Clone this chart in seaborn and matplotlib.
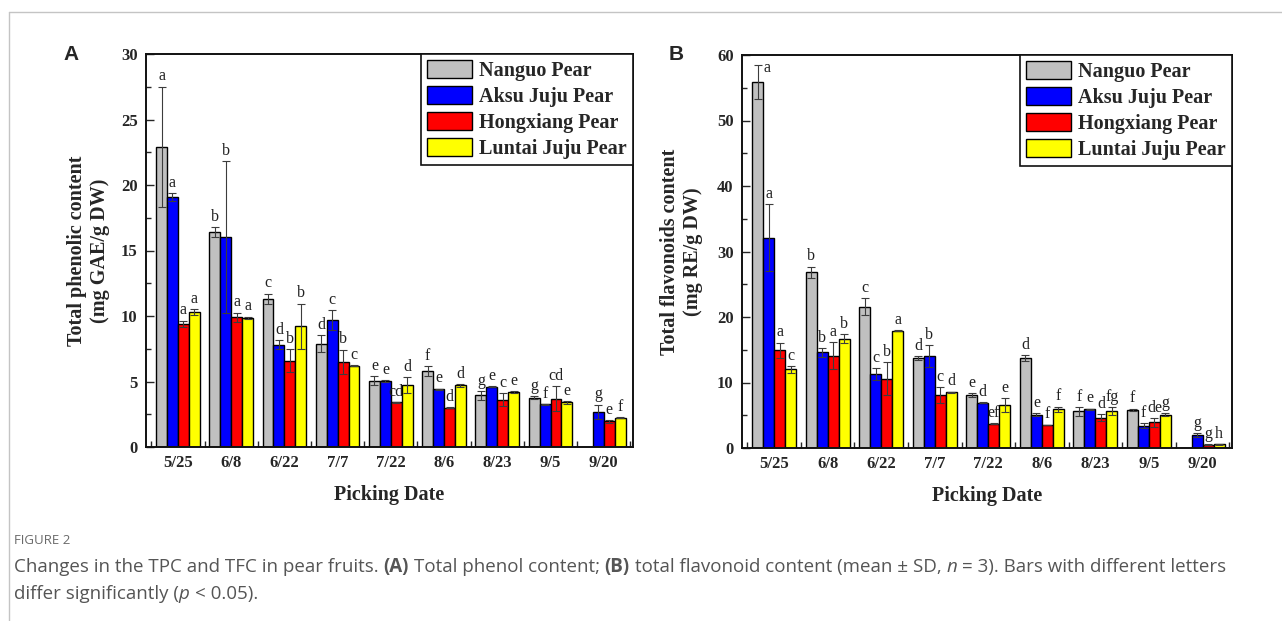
import numpy as np
import pandas as pd
import matplotlib
matplotlib.use("Agg")
import matplotlib.pyplot as plt
from matplotlib.patches import Patch
from matplotlib.lines import Line2D
from matplotlib.ticker import MultipleLocator
import seaborn as sns

# ---------------- data ----------------
dates = ["5/25", "6/8", "6/22", "7/7", "7/22", "8/6", "8/23", "9/5", "9/20"]
cultivars = ["Nanguo Pear", "Aksu Juju Pear", "Hongxiang Pear", "Luntai Juju Pear"]
colors = ["#c0c0c0", "#0000ff", "#ff0000", "#ffff00"]

# Total phenolic content (mg GAE/g DW), mean and SD
tpc_nanguo = [22.9, 16.4, 11.3, 7.9, 5.05, 5.8, 3.95, 3.75, 0.0]
tpc_aksu = [19.1, 16.0, 7.8, 9.7, 5.05, 4.4, 4.6, 3.25, 2.7]
tpc_hong = [9.4, 9.9, 6.6, 6.5, 3.4, 3.0, 3.6, 3.7, 1.95]
tpc_luntai = [10.3, 9.85, 9.2, 6.2, 4.75, 4.7, 4.2, 3.4, 2.25]
tpc_sd_nanguo = [4.6, 0.4, 0.4, 0.65, 0.35, 0.38, 0.33, 0.12, 0.0]
tpc_sd_aksu = [0.3, 5.8, 0.35, 0.76, 0.05, 0.05, 0.05, 0.05, 0.54]
tpc_sd_hong = [0.25, 0.35, 0.85, 0.94, 0.05, 0.05, 0.5, 0.97, 0.1]
tpc_sd_luntai = [0.25, 0.1, 1.75, 0.05, 0.6, 0.1, 0.08, 0.12, 0.03]
tpc_let_nanguo = ["a", "b", "c", "d", "e", "f", "g", "g", ""]
tpc_let_aksu = ["a", "b", "d", "c", "e", "e", "e", "f", "g"]
tpc_let_hong = ["a", "a", "b", "b", "cd", "d", "c", "cd", "e"]
tpc_let_luntai = ["a", "a", "b", "c", "d", "d", "e", "e", "f"]

# Total flavonoids content (mg RE/g DW), mean and SD
tfc_nanguo = [55.9, 26.8, 21.6, 13.7, 8.1, 13.7, 5.6, 5.8, 0.0]
tfc_aksu = [32.1, 14.6, 11.3, 14.0, 6.9, 5.1, 5.9, 3.4, 2.0]
tfc_hong = [14.9, 14.1, 10.6, 8.1, 3.7, 3.5, 4.6, 3.9, 0.5]
tfc_luntai = [12.0, 16.7, 17.9, 8.5, 6.6, 5.9, 5.6, 5.1, 0.55]
tfc_sd_nanguo = [2.6, 0.9, 1.3, 0.3, 0.25, 0.45, 0.65, 0.2, 0.0]
tfc_sd_aksu = [5.1, 0.65, 0.9, 1.7, 0.05, 0.2, 0.1, 0.36, 0.3]
tfc_sd_hong = [1.2, 2.1, 2.5, 1.2, 0.05, 0.05, 0.55, 0.7, 0.05]
tfc_sd_luntai = [0.5, 0.7, 0.1, 0.1, 1.05, 0.4, 0.6, 0.2, 0.05]
tfc_let_nanguo = ["a", "b", "c", "d", "e", "d", "f", "f", ""]
tfc_let_aksu = ["a", "b", "c", "b", "d", "e", "e", "f", "g"]
tfc_let_hong = ["a", "a", "b", "c", "ef", "f", "d", "de", "g"]
tfc_let_luntai = ["c", "b", "a", "d", "e", "f", "fg", "g", "h"]

# ---------------- style ----------------
sns.set_style("ticks")
plt.rcParams["font.family"] = ["Liberation Serif", "DejaVu Serif"]
plt.rcParams["font.weight"] = "bold"
plt.rcParams["axes.labelweight"] = "bold"

W, H = 1282, 621
fig = plt.figure(figsize=(W / 100, H / 100), dpi=100)
fig.patch.set_facecolor("white")


def long_frame(series):
    rows = []
    for cultivar, values in zip(cultivars, series):
        for d, v in zip(dates, values):
            rows.append({"date": d, "cultivar": cultivar, "value": v})
    return pd.DataFrame(rows)


def draw_panel(ax, means, sds, letters, ymax, ystep, ylabel, label_x):
    df = long_frame(means)
    sns.barplot(data=df, x="date", y="value", hue="cultivar", order=dates,
                hue_order=cultivars, palette=colors, saturation=1,
                edgecolor="black", linewidth=1.0, width=0.82,
                errorbar=None, legend=False, ax=ax)
    for cont, sd, lets in zip(ax.containers, sds, letters):
        for bar, e, lt in zip(cont, sd, lets):
            h = bar.get_height()
            if h <= 0:
                continue
            xc = bar.get_x() + bar.get_width() / 2
            ax.errorbar(xc, h, yerr=e, fmt="none", ecolor="#3c3c3c",
                        elinewidth=0.8, capsize=3, capthick=0.8, zorder=4)
            top = h + e
            if top > ymax * 0.95:
                ax.annotate(lt, (xc, top), xytext=(4, -2), textcoords="offset points",
                            ha="left", va="center", fontsize=11.5,
                            fontweight="normal", color="#222222")
            else:
                ax.annotate(lt, (xc, top), xytext=(0, 4.5), textcoords="offset points",
                            ha="center", va="baseline", fontsize=11.5,
                            fontweight="normal", color="#222222")

    ax.set_xlim(-0.6, 8.55)
    ax.set_ylim(0, ymax)
    ax.set_yticks(np.arange(0, ymax + 0.1, ystep))
    ax.yaxis.set_minor_locator(MultipleLocator(ystep / 2))
    ax.set_xticks(np.arange(-0.5, 8.6, 1), minor=True)
    ax.tick_params(axis="x", which="major", length=0, pad=6, labelsize=12)
    ax.tick_params(axis="x", which="minor", direction="in", length=4, width=1)
    ax.tick_params(axis="y", which="major", direction="in", length=6, width=1,
                   pad=6, labelsize=12)
    ax.tick_params(axis="y", which="minor", direction="in", length=3.5, width=1)
    for s in ax.spines.values():
        s.set_visible(True)
        s.set_linewidth(1.4)
        s.set_color("#111111")

    ax.set_xlabel("Picking Date", fontsize=14.5, va="center")
    ax.xaxis.set_label_coords(0.5, -0.122)
    ax.set_ylabel(ylabel, fontsize=14.5, va="center", ha="center",
                  multialignment="center")
    ax.yaxis.set_label_coords(label_x, 0.5)

    handles = [Patch(facecolor=c, edgecolor="black", linewidth=1.0) for c in colors]
    leg = ax.legend(handles, cultivars, loc="upper right", borderaxespad=0,
                    frameon=True, fancybox=False, framealpha=1,
                    handlelength=2.25, handleheight=1.0, handletextpad=0.35,
                    labelspacing=0.25, borderpad=0.3,
                    prop={"family": "Liberation Serif", "weight": "bold", "size": 14.5})
    leg.get_frame().set_edgecolor("#111111")
    leg.get_frame().set_linewidth(1.2)


axA = fig.add_axes([146 / W, 1 - 447 / H, 487 / W, 393 / H])
axB = fig.add_axes([742 / W, 1 - 448 / H, 490 / W, 393 / H])

draw_panel(axA,
           [tpc_nanguo, tpc_aksu, tpc_hong, tpc_luntai],
           [tpc_sd_nanguo, tpc_sd_aksu, tpc_sd_hong, tpc_sd_luntai],
           [tpc_let_nanguo, tpc_let_aksu, tpc_let_hong, tpc_let_luntai],
           30, 5, "Total phenolic content\n(mg GAE/g DW)", -0.118)
draw_panel(axB,
           [tfc_nanguo, tfc_aksu, tfc_hong, tfc_luntai],
           [tfc_sd_nanguo, tfc_sd_aksu, tfc_sd_hong, tfc_sd_luntai],
           [tfc_let_nanguo, tfc_let_aksu, tfc_let_hong, tfc_let_luntai],
           60, 10, "Total flavonoids content\n(mg RE/g DW)", -0.123)

# panel letters
for lbl, px in (("A", 71), ("B", 676)):
    fig.text(px / W, 1 - 54 / H, lbl, ha="center", va="center", fontsize=15,
             fontweight="bold", family=["Liberation Sans", "DejaVu Sans"])

# frame of the figure block
fig.add_artist(Line2D([9 / W, 1], [1 - 12 / H] * 2, transform=fig.transFigure,
                      color="#c4c4c4", lw=1))
fig.add_artist(Line2D([9 / W, 9 / W], [1 - 12 / H, 0], transform=fig.transFigure,
                      color="#c4c4c4", lw=1))

# caption
renderer = fig.canvas.get_renderer()
cap_font = ["Open Sans", "DejaVu Sans"]
cap_size = 13.5
cap_color = "#555555"


def advance(s, props):
    if not s:
        return 0.0
    t = fig.text(0, 0, "|" + s + "|", **props)
    w1 = t.get_window_extent(renderer).width
    t.set_text("||")
    w2 = t.get_window_extent(renderer).width
    t.remove()
    return w1 - w2


def draw_runs(x0, y, runs):
    x = x0
    for text, extra in runs:
        props = dict(family=cap_font, fontsize=cap_size, color=cap_color,
                     fontweight="normal", fontstyle="normal")
        props.update(extra)
        core = text.strip(" ")
        lead = text[:len(text) - len(text.lstrip(" "))]
        if core:
            fig.text((x + advance(lead, props)) / W, 1 - y / H, core,
                     ha="left", va="center", **props)
        x += advance(text, props)


fig.text(14 / W, 1 - 541 / H, "FIGURE 2", ha="left", va="center", fontsize=9.5,
         family=cap_font, fontweight="normal", color="#6a6a6a")
B = {"fontweight": "bold"}
I = {"fontstyle": "italic"}
N = {}
draw_runs(14, 567, [
    ("Changes in the TPC and TFC in pear fruits. ", N), ("(A)", B),
    (" Total phenol content; ", N), ("(B)", B),
    (" total flavonoid content (mean \u00b1 SD, ", N), ("n", I),
    (" = 3). Bars with different letters", N),
])
draw_runs(14, 594, [
    ("differ significantly (", N), ("p", I), (" < 0.05).", N),
])

fig.savefig("out.png", dpi=100, facecolor="white")
